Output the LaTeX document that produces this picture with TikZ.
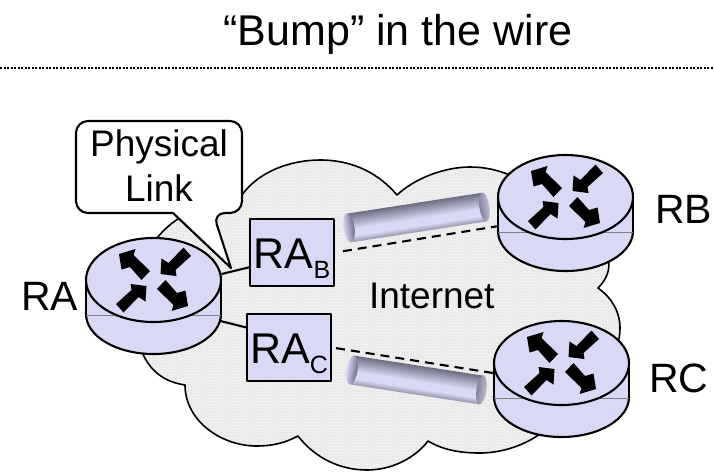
\documentclass[tikz,border=0pt]{standalone}
\usepackage{fontspec}
\setmainfont{Liberation Sans}
\usetikzlibrary{shapes.geometric, patterns}
\definecolor{routerblue}{HTML}{D9D9F5}
\definecolor{cloudgray}{HTML}{E9E9E9}
\definecolor{tubegray}{HTML}{6E6E82}
\pgfdeclareverticalshading{tubeshade}{100bp}{color(0bp)=(tubegray!65!routerblue); color(25bp)=(tubegray!65!routerblue);
    color(36bp)=(routerblue); color(48bp)=(routerblue); color(75bp)=(tubegray); color(100bp)=(tubegray)}
\newcommand{\subtxt}[1]{\raisebox{-10pt}{\fontsize{25}{25}\selectfont #1}}
\tikzset{
    bigtext/.style={font=\fontsize{41}{48}\selectfont, inner sep=0pt, anchor=base west},
    midtext/.style={font=\fontsize{37}{45}\selectfont, inner sep=0pt},
    routertop/.style={draw, fill=routerblue, ellipse, inner sep=0pt, minimum width=135pt, minimum height=84pt},
    routerbase/.style={draw, fill=routerblue, ellipse, inner sep=0pt, minimum width=135pt, minimum height=80pt},
    rabox/.style={draw, fill=routerblue, inner sep=0pt, minimum width=84pt, minimum height=67pt,
        font=\fontsize{43}{48}\selectfont, text height=33pt, text depth=2pt},
    dashlink/.style={dash pattern=on 9pt off 6pt}
}
\begin{document}
\begin{tikzpicture}[x=1pt, y=-1pt, line width=2.1pt, line join=round]
    \useasboundingbox (0,0) rectangle (714,472);
    \node[bigtext, anchor=base, font=\fontsize{43}{48}\selectfont] (title) at (398,45) {“Bump” in the wire};
    \draw[line width=2.5pt, dash pattern=on 2pt off 1.5pt] (0,68) -- (714,68);
    % cloud
    \draw[preaction={fill=cloudgray}, preaction={pattern=crosshatch dots, pattern color=white}, line width=1.6pt]
        (157,238) .. controls (170,222) and (190,208) .. (215,205)
        .. controls (225,205) and (235,205) .. (242,195)
        .. controls (258,172) and (290,160) .. (320,160)
        .. controls (355,160) and (380,175) .. (397,195)
        .. controls (415,178) and (445,167) .. (470,167)
        .. controls (485,167) and (497,170) .. (510,175)
        -- (608,258)
        .. controls (611,270) and (606,280) .. (598,288)
        .. controls (612,298) and (620,312) .. (620,328)
        .. controls (620,335) and (619,340) .. (617,345)
        -- (540,434)
        .. controls (520,448) and (497,453) .. (480,453)
        .. controls (460,453) and (443,450) .. (428,441)
        .. controls (415,458) and (392,470) .. (367,470)
        .. controls (340,470) and (315,458) .. (298,436)
        .. controls (285,443) and (272,446) .. (257,446)
        .. controls (220,446) and (185,420) .. (185,385)
        .. controls (165,382) and (150,372) .. (141,350) -- cycle;
    \node[midtext, anchor=base west] (internet) at (368,308) {Internet};
    % tunnels
    \foreach \xa/\ya/\ang/\len in {349/228/8.8/137, 352/370/-8.8/131} {
        \begin{scope}[transform canvas={shift={(\xa,\ya)}, rotate=\ang}]
            \shade[shading=tubeshade] (0,-14.5) rectangle (\len,14.5);
            \shade[left color=routerblue, right color=tubegray] (0,0) ellipse (5.5 and 14.5);
            \shade[left color=tubegray!80!routerblue, right color=tubegray!25!routerblue] (\len,0) ellipse (5 and 14.5);
        \end{scope}
    }
    % routers
    \foreach \rname/\x/\y in {RA/153.5/280, RB/565.5/197, RC/561.5/363} {
        \node[routerbase] (\rname base) at (\x,\y+34) {};
        \fill[routerblue] (\x-67.5,\y) rectangle (\x+67.5,\y+34);
        \draw (\x-67.5,\y) -- (\x-67.5,\y+34) (\x+67.5,\y) -- (\x+67.5,\y+34);
        \draw[line width=0.7pt, gray] (\x-67.5,\y+35.5) -- (\x+67.5,\y+35.5);
        \node[routertop] (\rname) at (\x,\y) {};
        \foreach \s in {1,-1} {
            \fill[shift={(\x,\y)}, scale=\s] (-34.5,-26) -- (-18,-31) -- (-20,-25) -- (-3.5,-9)
                -- (-12,0) -- (-23.5,-13) -- (-32,-10.5) -- cycle;
            \fill[shift={(\x,\y)}, scale=\s] (7,-6) -- (8,-21.5) -- (15,-17) -- (30,-32.5)
                -- (37.5,-24) -- (22,-10) -- (23,-4) -- cycle;
        }
    }
    \node[rabox] (RAB) at (292,252.5) {RA\subtxt{B}};
    \node[rabox] (RAC) at (289,347.5) {RA\subtxt{C}};
    % links
    \draw (RA.5) -- (RAB.199);
    \draw (RAbase.-6) -- (RAC.155);
    \draw[dashlink, shorten <=8pt] (RAB.east) -- (RBbase.176);
    \draw[dashlink, shorten <=4pt] (RAC.east) -- ([yshift=-10pt]RC.west);
    % callout
    \draw[fill=white, rounded corners=12pt] (173,213) -- (76,213) -- (76,121) -- (242,121)
        -- (242,213) -- (213,213) [sharp corners] -- (231,268) -- cycle;
    \node[midtext, align=center] (physlink) at (159,166) {Physical\\Link};
    % router names
    \node[bigtext] (nameA) at (20,310) {RA};
    \node[bigtext] (nameB) at (654,223) {RB};
    \node[bigtext] (nameC) at (648,392) {RC};
\end{tikzpicture}
\end{document}
